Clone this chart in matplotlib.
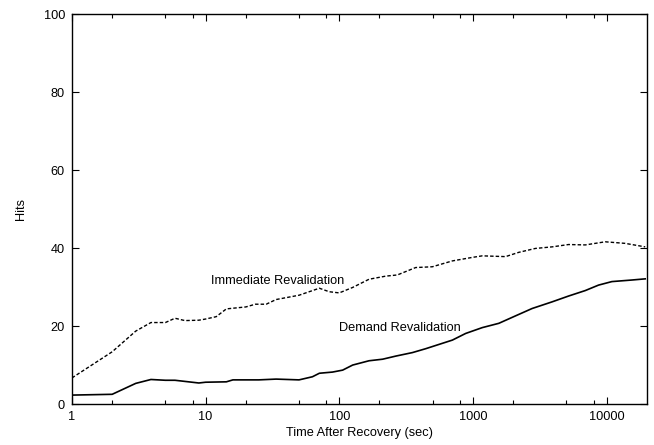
import matplotlib.pyplot as plt
from matplotlib.ticker import FixedLocator, NullFormatter

plt.rcParams["font.family"] = ["Liberation Sans", "DejaVu Sans"]

# Immediate revalidation (dashed)
immediate_time = [1, 2, 3, 3.9, 5, 5.9, 7, 8.9, 10, 12, 14.3, 20, 23.6, 28.4, 33.7,
                  50, 71, 84, 100, 126, 167, 223, 272, 373, 497, 702, 989, 1175,
                  1754, 2205, 2935, 3910, 5200, 6930, 9770, 13770, 19450]
immediate_hits = [6.7, 13.4, 18.7, 20.9, 20.9, 22.0, 21.4, 21.5, 21.8, 22.4, 24.4,
                  24.9, 25.6, 25.6, 26.8, 27.9, 29.7, 28.8, 28.5, 29.9, 32.0, 32.8,
                  33.1, 35.0, 35.2, 36.7, 37.6, 38.0, 37.8, 38.9, 39.9, 40.3, 40.9,
                  40.8, 41.6, 41.2, 40.3]

# Demand revalidation (solid)
demand_time = [1, 2, 3, 3.9, 5, 5.9, 8.9, 10, 14.3, 16, 20, 25, 33.7, 50, 63, 71,
               89, 106, 126, 167, 211, 265, 353, 444, 702, 882, 1175, 1563, 2080,
               2773, 3910, 5200, 6930, 8710, 10960, 15450, 19450]
demand_hits = [2.3, 2.5, 5.3, 6.3, 6.1, 6.1, 5.4, 5.6, 5.7, 6.2, 6.2, 6.2, 6.4, 6.2,
               7.0, 7.9, 8.2, 8.7, 10.0, 11.1, 11.5, 12.3, 13.2, 14.2, 16.4, 18.1,
               19.6, 20.7, 22.6, 24.5, 26.2, 27.7, 29.1, 30.5, 31.4, 31.8, 32.1]

x_ticks = [1, 10, 100, 1000, 10000]
x_tick_labels = ["1", "10", "100", "1000", "10000"]
x_minor = [2, 5, 8, 20, 50, 80, 200, 500, 800, 2000, 5000, 8000]
y_ticks = [0, 20, 40, 60, 80, 100]

fs = 9.2

fig = plt.figure(figsize=(6.54, 4.45), dpi=100)
ax = fig.add_axes([0.110, 0.092, 0.879, 0.8765])

ax.plot(immediate_time, immediate_hits, color="black", linewidth=1.0,
        linestyle=(0, (2.5, 1.5)))
ax.plot(demand_time, demand_hits, color="black", linewidth=1.2)

ax.text(11.0, 31.6, "Immediate Revalidation", fontsize=fs, va="center", ha="left")
ax.text(100, 19.6, "Demand Revalidation", fontsize=fs, va="center", ha="left")

ax.set_xscale("log")
ax.set_xlim(1, 20000)
ax.set_ylim(0, 100)
ax.xaxis.set_major_locator(FixedLocator(x_ticks))
ax.set_xticklabels(x_tick_labels)
ax.xaxis.set_minor_locator(FixedLocator(x_minor))
ax.xaxis.set_minor_formatter(NullFormatter())
ax.set_yticks(y_ticks)

ax.tick_params(which="both", direction="in", top=True, right=True, labelsize=fs,
               width=0.8)
ax.tick_params(which="major", length=5, pad=5)
ax.tick_params(which="minor", length=3)
for spine in ax.spines.values():
    spine.set_linewidth(1.0)

ax.set_xlabel("Time After Recovery (sec)", fontsize=fs, labelpad=3)
ax.set_ylabel("Hits", fontsize=fs, labelpad=12)

fig.savefig("out.png", dpi=100)
